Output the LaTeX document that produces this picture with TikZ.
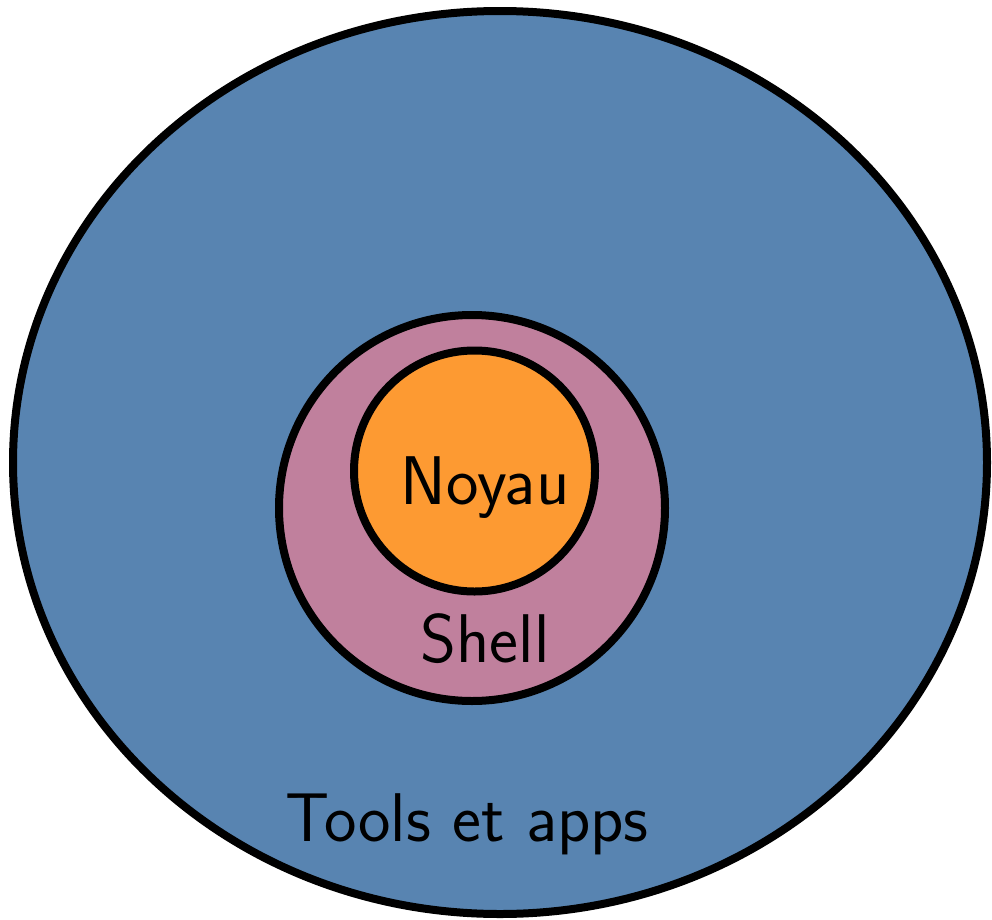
\documentclass[tikz,border=0pt]{standalone}
\usepackage{fontspec}
\definecolor{appsblue}{HTML}{5884B1}
\definecolor{shellpink}{HTML}{C0809D}
\definecolor{kernelorange}{HTML}{FD9A32}
\tikzset{
  layer/.style={draw=black, line width=0.8mm},
  lbl/.style={font=\sffamily\fontsize{19.6}{24}\selectfont, anchor=base, inner sep=0pt}
}
\begin{document}
\begin{tikzpicture}[x=0.1mm, y=-0.1mm]
  \useasboundingbox (0,0) rectangle (992,920);
  \begin{scope}
    \clip (0,0) rectangle (992,920);
    % outer layer: tools and applications
    \draw[layer, fill=appsblue] (500,462.5) ellipse [x radius=487, y radius=451.5];
    % shell layer
    \draw[layer, fill=shellpink] (472,508) circle [radius=193];
    % kernel
    \draw[layer, fill=kernelorange] (474.5,471) circle [radius=120.5];
  \end{scope}
  \node[lbl] (noyau) at (485,504) {Noyau};
  \node[lbl] (shell) at (485,662) {Shell};
  \node[lbl] (apps) at (467,841) {Tools et apps};
\end{tikzpicture}
\end{document}
